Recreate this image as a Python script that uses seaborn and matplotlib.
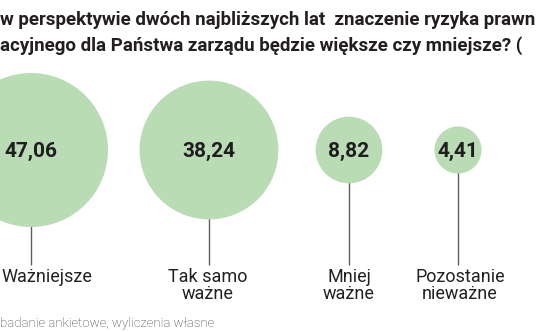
import matplotlib
matplotlib.use("Agg")
import matplotlib.pyplot as plt
import seaborn as sns
import pandas as pd

# ---- data ----
categories = ["Ważniejsze", "Tak samo\nważne", "Mniej\nważne", "Pozostanie\nnieważne"]
values = [47.06, 38.24, 8.82, 4.41]
value_labels = ["47,06", "38,24", "8,82", "4,41"]
title_lines = ["w perspektywie dwóch najbliższych lat  znaczenie ryzyka prawn",
               "acyjnego dla Państwa zarządu będzie większe czy mniejsze? ("]
source_text = "badanie ankietowe, wyliczenia własne"

# ---- layout (pixel canvas) ----
centers_x = [31, 209, 349, 458]
center_y = 150
stem_end = 265
label_x = [1, 208, 349, 460]
label_ha = ["left", "center", "center", "center"]

sns.set_theme(style="white")
plt.rcParams["font.family"] = ["Roboto", "DejaVu Sans"]

fig = plt.figure(figsize=(5.36, 3.32), dpi=100)
ax = fig.add_axes([0, 0, 1, 1])

df = pd.DataFrame({"cat": categories, "value": values,
                   "x": centers_x, "y": [center_y] * len(values)})

# stems
ax.vlines(df["x"], center_y, stem_end, color="#5f5f5f", lw=1.0, zorder=1)

# bubbles (area proportional to value)
r_max_px = 77
s_max = (2 * r_max_px * 72 / 100) ** 2
sns.scatterplot(data=df, x="x", y="y", size="value", sizes=(0, s_max),
                size_norm=(0, max(values)), color="#badcb5", edgecolor="none",
                linewidth=0, legend=False, ax=ax, zorder=3)
ax.set_xlim(0, 536)
ax.set_ylim(332, 0)
ax.axis("off")

for x, lab in zip(df["x"], value_labels):
    ax.text(x, center_y + 1, lab, ha="center", va="center", fontsize=15,
            fontweight="bold", color="#1e1e1e", zorder=4)

for x, ha, cat in zip(label_x, label_ha, categories):
    ax.text(x, 268, cat, ha=ha, va="top", fontsize=13,
            color="#222222", linespacing=0.92, multialignment="center")

# title
ax.text(0, 25, title_lines[0], ha="left", va="baseline", fontsize=13.5,
        fontweight="bold", color="#231f20")
ax.text(0, 51, title_lines[1], ha="left", va="baseline", fontsize=13.5,
        fontweight="bold", color="#231f20")

# source
ax.text(0, 327, source_text, ha="left", va="baseline", fontsize=9.5,
        fontweight="light", color="#3a3a3a")

fig.savefig("out.png", dpi=100)
